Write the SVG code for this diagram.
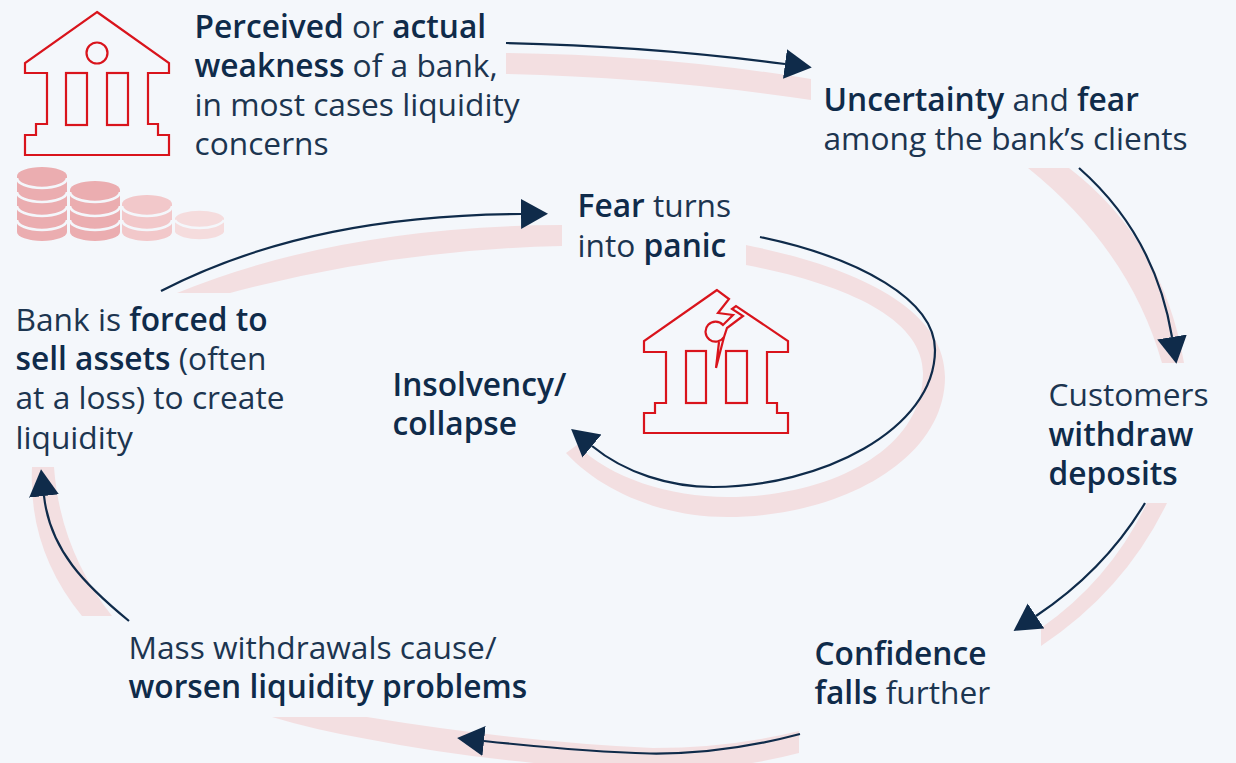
<svg xmlns="http://www.w3.org/2000/svg" width="1236" height="763" viewBox="0 0 1236 763">
<style>
text{font-family:"Open Sans","Noto Sans","Liberation Sans",sans-serif;font-size:31.7px;fill:#1c3550}
.b{font-weight:600;fill:#0f2b4a}
.band{fill:#f3dfe1}
.line{fill:none;stroke:#0f2b4a;stroke-width:2.2;marker-end:url(#arrow)}
.icon{fill:none;stroke:#d9141c;stroke-width:2.2}
.sep{fill:none;stroke:#f4f7fb;stroke-width:2.6}
</style>
<defs>
<marker id="arrow" markerUnits="userSpaceOnUse" markerWidth="28" markerHeight="32" refX="0" refY="15" orient="auto"><path d="M0 0L27 15L0 30Z" fill="#0f2b4a"/></marker>
</defs>
<rect width="1236" height="763" fill="#f4f7fb"/>
<g id="bands">
<path class="band" d="M506 53Q665 55 811 79V100Q665 78 506 74Z"/>
<path class="band" d="M1028 168H1069Q1163 240 1184 363H1162Q1130 250 1028 168Z"/>
<path class="band" d="M1147 503H1167Q1125 590 1041 646V628Q1110 580 1147 503Z"/>
<path class="band" d="M272 717H367Q520 742 653 748Q730 748 799 731V753Q730 771 653 771Q500 765 367 739Q315 730 272 717Z"/>
<path class="band" d="M32 467H54Q60 550 112 616H82Q28 550 32 467Z"/>
<path class="band" d="M177 293Q340 226 562 225V246Q390 250 230 293Z"/>
<path class="band" d="M746 245C860 268 945 310 945 377C945 460 840 517 727 517C660 517 600 490 566 453L577 445C610 478 670 497 727 497C830 497 923 450 923 373C923 320 850 285 746 265Z"/>
</g>
<g id="connectors">
<path class="line" d="M506 43Q650 46 785 64"/>
<path class="line" d="M1079 168Q1155 235 1172 337"/>
<path class="line" d="M1145 503Q1105 570 1036 616"/>
<path class="line" d="M800 734C740 750 690 754 650 753.500C590 752 540 747 484 741"/>
<path class="line" d="M129 621C85 585 50 550 44 496"/>
<path class="line" d="M161 291C270 235 390 215 521 214"/>
<path class="line" d="M760 237C860 258 935 300 935 350C935 430 820 487 713 487C670 487 625 473 592 446"/>
</g>
<g id="bank">
<path class="icon" d="M97 12L169 63V73H148V124H158V135H169V155H25V135H36V124H47V73H25V63Z"/>
<circle class="icon" cx="97" cy="53" r="10.500"/>
<rect class="icon" x="66" y="73" width="21" height="52"/>
<rect class="icon" x="107" y="73" width="21" height="52"/>
</g>
<g id="coins">
<g fill="#ebadb0">
<path d="M17 176A25 9 0 0 1 67 176V232A25 9 0 0 1 17 232Z"/>
<path d="M70 190A25 9 0 0 1 120 190V232A25 9 0 0 1 70 232Z"/>
</g>
<path fill="#f2c8ca" d="M122 204A25 9 0 0 1 172 204V232A25 9 0 0 1 122 232Z"/>
<path fill="#f5dcdd" d="M175 218A25 9 0 0 1 224 218V232A25 9 0 0 1 175 232Z"/>
<path class="sep" d="M17 178A25 10 0 0 0 67 178M17 192A25 10 0 0 0 67 192M17 206A25 10 0 0 0 67 206M17 220A25 10 0 0 0 67 220"/>
<path class="sep" d="M70 192A25 10 0 0 0 120 192M70 206A25 10 0 0 0 120 206M70 220A25 10 0 0 0 120 220"/>
<path class="sep" d="M122 206A25 10 0 0 0 172 206M122 220A25 10 0 0 0 172 220"/>
<path class="sep" d="M175 220A25 10 0 0 0 224 220"/>
</g>
<g id="broken-bank">
<path class="icon" d="M717 290L644 341V352H666V403H655V413H644V433H788V413H777V403H767V352H788V341L736 306L732 309L743 316L727 328L724 337A10 10 0 1 1 723 325L733 315L718 313L729 299Z"/>
<path class="icon" d="M724 337L716 368L719 342" stroke-width="2"/>
<rect class="icon" x="686" y="351" width="20" height="52"/>
<rect class="icon" x="726" y="351" width="21" height="52"/>
</g>
<g id="n1"><text x="194.500" y="37.500"><tspan class="b">Perceived</tspan> or <tspan class="b">actual</tspan></text><text x="194.500" y="76.500"><tspan class="b">weakness</tspan> of a bank,</text><text x="194.500" y="116">in most cases liquidity</text><text x="194.500" y="155">concerns</text></g>
<g id="n2"><text x="823.500" y="110.500"><tspan class="b">Uncertainty</tspan> and <tspan class="b">fear</tspan></text><text x="823.500" y="149.500">among the bank’s clients</text></g>
<g id="n3"><text x="1048.500" y="405.500">Customers</text><text x="1048.500" y="445.500" class="b">withdraw</text><text x="1048.500" y="484.500" class="b">deposits</text></g>
<g id="n4"><text x="814.500" y="664.500" class="b">Confidence</text><text x="814.500" y="703.500"><tspan class="b">falls</tspan> further</text></g>
<g id="n5"><text x="128.500" y="658.500">Mass withdrawals cause/</text><text x="128.500" y="697.500" class="b">worsen liquidity problems</text></g>
<g id="n6"><text x="15.500" y="330.500">Bank is <tspan class="b">forced to</tspan></text><text x="15.500" y="370"><tspan class="b">sell assets</tspan> (often</text><text x="15.500" y="409">at a loss) to create</text><text x="15.500" y="448.500">liquidity</text></g>
<g id="n7"><text x="577.500" y="216.500"><tspan class="b">Fear</tspan> turns</text><text x="577.500" y="256.500">into <tspan class="b">panic</tspan></text></g>
<g id="n8"><text x="392.500" y="395.500" class="b">Insolvency/</text><text x="392.500" y="434.500" class="b">collapse</text></g>
</svg>
